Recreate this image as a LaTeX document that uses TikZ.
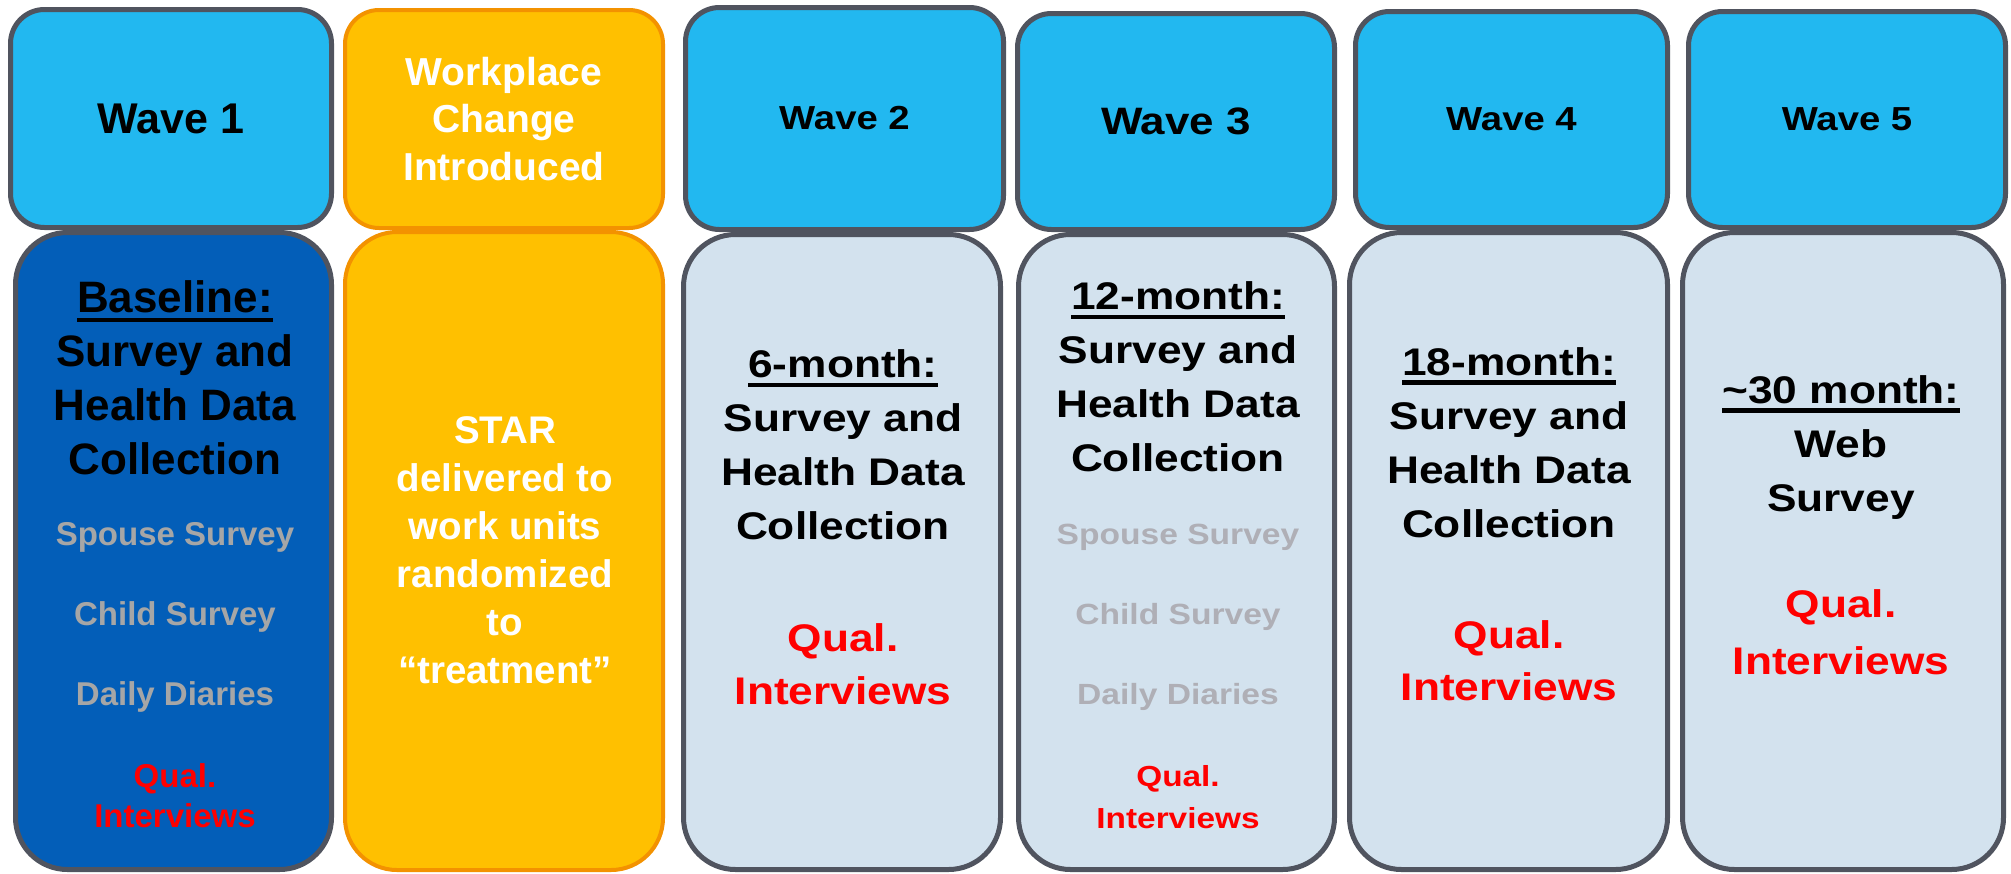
\documentclass[tikz,border=0pt]{standalone}
\usepackage{fontspec}
\setmainfont{Liberation Sans}
\newfontfamily\widesans{Liberation Sans}[FakeStretch=1.15]

\definecolor{wavecyan}{HTML}{22B8F0}
\definecolor{edgegray}{HTML}{50545F}
\definecolor{baseblue}{HTML}{035EB8}
\definecolor{staryellow}{HTML}{FFC000}
\definecolor{starorange}{HTML}{F39200}
\definecolor{panelgray}{HTML}{D3E2EE}
\definecolor{subgray}{HTML}{A6A6A6}
\definecolor{sublight}{HTML}{AFAFB6}
\definecolor{qualred}{HTML}{FF0000}

% underlined period label
\newcommand{\ulbar}[1]{\leavevmode\vtop{\hbox{#1}\kern2.3pt\hrule height 2.2pt}}

\begin{document}
\begin{tikzpicture}[
  x=0.5pt, y=-0.5pt,
  wave/.style={draw=edgegray, line width=2.5pt, fill=wavecyan, rounded corners=17pt, inner sep=0pt, align=center, font=\widesans\bfseries\fontsize{16.65}{20}\selectfont},
  change/.style={wave, draw=starorange, line width=2pt, fill=staryellow, text=white, font=\bfseries\fontsize{19.5}{23.75}\selectfont},
  panel/.style={draw=edgegray, line width=2.5pt, fill=panelgray, rounded corners=26pt, inner sep=0pt},
  maintext/.style={align=center, inner sep=0pt, font=\widesans\bfseries\fontsize{19.25}{27}\selectfont},
  qualtext/.style={maintext, text=qualred},
  subtext/.style={align=center, inner sep=0pt, text=sublight, font=\widesans\bfseries\fontsize{14.6}{40}\selectfont}
]
\useasboundingbox (0,0) rectangle (2011,873);

% Wave 1 / baseline
\node[wave, minimum width=160.5pt, minimum height=109pt, font=\bfseries\fontsize{21.5}{26}\selectfont] (w1) at (171,118.5) {Wave 1};
\node[panel, fill=baseblue, minimum width=158pt, minimum height=318.5pt] (p1) at (173.5,551) {};
\node[maintext, font=\bfseries\fontsize{22}{27}\selectfont] (t1) at (175,378) {\ulbar{Baseline:}\\Survey and\\Health Data\\Collection};
\node[subtext, text=subgray, font=\bfseries\fontsize{16.5}{40}\selectfont] (s1) at (175,617.5) {Spouse Survey\\Child Survey\\Daily Diaries};
\node[qualtext, font=\bfseries\fontsize{16.5}{20}\selectfont] (q1) at (175,796) {Qual.\\Interviews};

% intervention
\node[change, minimum width=159pt, minimum height=109pt] (wc) at (504,119) {Workplace\\Change\\Introduced};
\node[panel, draw=starorange, line width=2pt, fill=staryellow, minimum width=159pt, minimum height=319pt] (pc) at (504,551) {};
\node[maintext, text=white, font=\bfseries\fontsize{19.25}{24}\selectfont] (tc) at (505,550) {STAR\\delivered to\\work units\\randomized\\to\\“treatment”};

% Wave 2
\node[wave, minimum width=159pt, minimum height=111pt] (w2) at (844.5,118.5) {Wave 2};
\node[panel, minimum width=158.5pt, minimum height=317.5pt] (p2) at (842,552) {};
\node[maintext] (t2) at (843,445) {\ulbar{6-month:}\\Survey and\\Health Data\\Collection};
\node[qualtext, font=\widesans\bfseries\fontsize{19.25}{26.5}\selectfont] (q2) at (843,664) {Qual.\\Interviews};

% Wave 3
\node[wave, minimum width=158.5pt, minimum height=108pt, font=\widesans\bfseries\fontsize{19.1}{23}\selectfont] (w3) at (1176,121.5) {Wave 3};
\node[panel, minimum width=158pt, minimum height=317.5pt] (p3) at (1176.5,552) {};
\node[maintext] (t3) at (1178,377) {\ulbar{12-month:}\\Survey and\\Health Data\\Collection};
\node[subtext] (s3) at (1178,617.5) {Spouse Survey\\Child Survey\\Daily Diaries};
\node[qualtext, font=\widesans\bfseries\fontsize{14.5}{21}\selectfont] (q3) at (1178,797.5) {Qual.\\Interviews};

% Wave 4
\node[wave, minimum width=156pt, minimum height=108pt] (w4) at (1511.5,119.5) {Wave 4};
\node[panel, minimum width=159pt, minimum height=318.5pt] (p4) at (1508.5,551) {};
\node[maintext] (t4) at (1509,442.5) {\ulbar{18-month:}\\Survey and\\Health Data\\Collection};
\node[qualtext, font=\widesans\bfseries\fontsize{19.25}{26}\selectfont] (q4) at (1509,660.5) {Qual.\\Interviews};

% Wave 5
\node[wave, minimum width=158.5pt, minimum height=108pt] (w5) at (1847,119.5) {Wave 5};
\node[panel, minimum width=160.5pt, minimum height=318.5pt] (p5) at (1843,551) {};
\node[maintext] (t5) at (1841,447.5) {\ulbar{\textasciitilde30 month:}\\Web\\Survey};
\node[qualtext, font=\widesans\bfseries\fontsize{19.25}{28.5}\selectfont] (q5) at (1841,632.5) {Qual.\\Interviews};
\end{tikzpicture}
\end{document}
